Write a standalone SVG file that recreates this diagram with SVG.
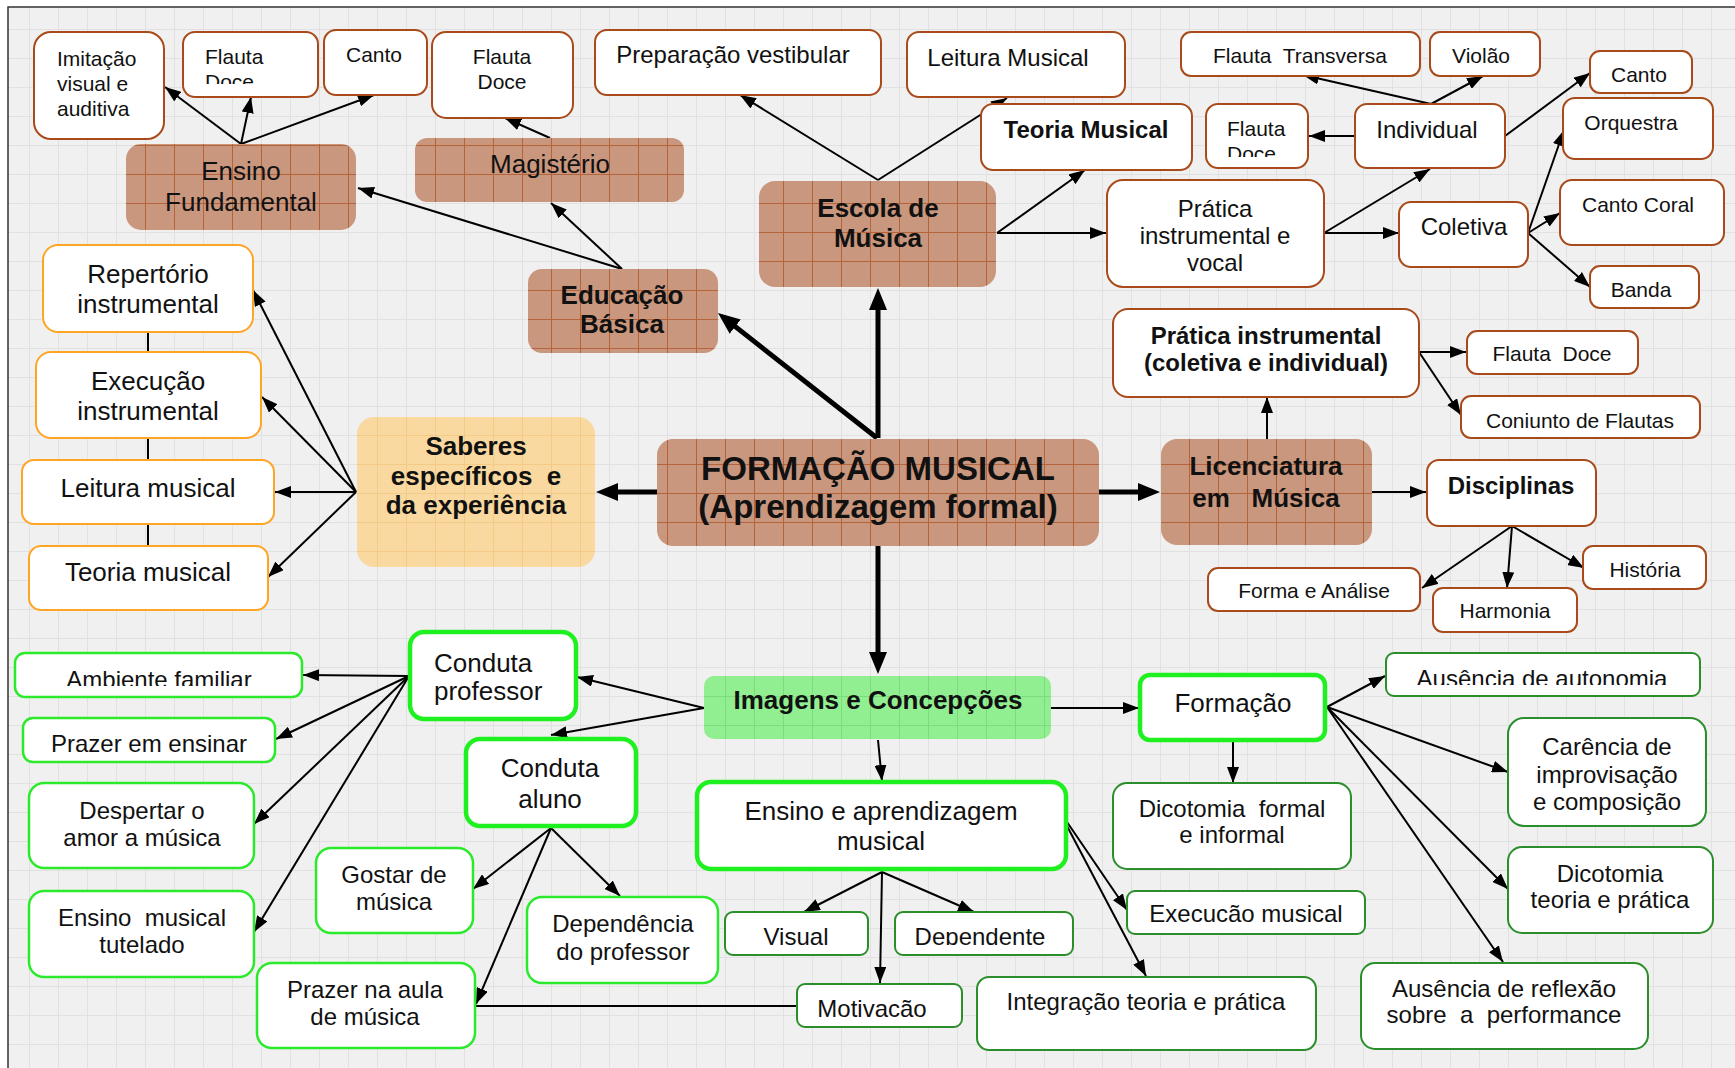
<svg xmlns="http://www.w3.org/2000/svg" width="1735" height="1068" viewBox="0 0 1735 1068">
<defs>
<pattern id="bg" width="29" height="29" patternUnits="userSpaceOnUse"><rect width="29" height="29" fill="#f0f0f0"/><path d="M0 0.5H29M0.5 0V29" stroke="#e1e1e1" stroke-width="1" fill="none"/></pattern>
<pattern id="bp" width="29" height="29" patternUnits="userSpaceOnUse"><rect width="29" height="29" fill="#c9967e"/><path d="M0 0.5H29M0.5 0V29" stroke="#b5633b" stroke-width="1" fill="none"/></pattern>
<pattern id="op" width="29" height="29" patternUnits="userSpaceOnUse"><rect width="29" height="29" fill="#fad9a0"/><path d="M0 0.5H29M0.5 0V29" stroke="#f3cb86" stroke-width="1" fill="none"/></pattern>
<pattern id="gp" width="29" height="29" patternUnits="userSpaceOnUse"><rect width="29" height="29" fill="#91ee91"/><path d="M0 0.5H29M0.5 0V29" stroke="#7cdc7c" stroke-width="1" fill="none"/></pattern>
<marker id="a" markerWidth="16" markerHeight="12" refX="16" refY="6" orient="auto" markerUnits="userSpaceOnUse"><path d="M0,0 L16,6 L0,12 z" fill="#000"/></marker>
<marker id="A" markerWidth="22" markerHeight="18" refX="10" refY="9" orient="auto" markerUnits="userSpaceOnUse"><path d="M0,0 L22,9 L0,18 z" fill="#000"/></marker>
<clipPath id="c1"><rect x="183" y="32" width="135" height="52"/></clipPath>
<clipPath id="c2"><rect x="1206" y="104" width="102" height="53"/></clipPath>
<clipPath id="c3"><rect x="15" y="653" width="287" height="33"/></clipPath>
<clipPath id="c4"><rect x="1386" y="653" width="314" height="32"/></clipPath>
<clipPath id="c5"><rect x="1127" y="891" width="238" height="31"/></clipPath>
<clipPath id="c6"><rect x="1461" y="396" width="239" height="32"/></clipPath>
<clipPath id="c7"><rect x="895" y="912" width="178" height="33"/></clipPath>
<clipPath id="c8"><rect x="797" y="984" width="165" height="33"/></clipPath>
</defs>
<style>
.bw{fill:#fff;stroke:#a84a1a;stroke-width:2}
.bf{fill:url(#bp)}
.ow{fill:#fff;stroke:#ffa526;stroke-width:2}
.of{fill:url(#op)}
.gw{fill:#fff;stroke:#2bea2b;stroke-width:2.5}
.gt{fill:#fff;stroke:#1ff01f;stroke-width:4.5}
.dg{fill:#fff;stroke:#2a8e2a;stroke-width:2}
.gf{fill:url(#gp)}
text{font-family:"Liberation Sans",Arial,sans-serif;fill:#111}
.s21{font-size:21px}
.s24{font-size:24px}
.s26{font-size:26px}
.s33{font-size:33px}
.bd{font-weight:bold}
.m{text-anchor:middle}
#connectors line{stroke:#000;stroke-width:2;fill:none}
#connectors line.k{stroke-width:5}
</style>
<rect width="1735" height="1068" fill="#fff"/>
<rect x="8" y="7" width="1727" height="1061" fill="url(#bg)"/>
<path d="M8 1068V7H1735" stroke="#333" stroke-width="1.5" fill="none"/>

<g id="connectors">
<line x1="241" y1="144" x2="165" y2="87" marker-end="url(#a)"/>
<line x1="241" y1="144" x2="251" y2="97" marker-end="url(#a)"/>
<line x1="241" y1="144" x2="374" y2="95" marker-end="url(#a)"/>
<line x1="622" y1="269" x2="358" y2="188" marker-end="url(#a)"/>
<line x1="622" y1="269" x2="551" y2="203" marker-end="url(#a)"/>
<line x1="550" y1="138" x2="505" y2="118" marker-end="url(#a)"/>
<line x1="878" y1="180" x2="740" y2="95" marker-end="url(#a)"/>
<line x1="878" y1="180" x2="1007" y2="98" marker-end="url(#a)"/>
<line x1="997" y1="233" x2="1085" y2="170" marker-end="url(#a)"/>
<line x1="997" y1="233" x2="1106" y2="233" marker-end="url(#a)"/>
<line x1="1324" y1="233" x2="1430" y2="169" marker-end="url(#a)"/>
<line x1="1324" y1="233" x2="1399" y2="233" marker-end="url(#a)"/>
<line x1="1431" y1="104" x2="1303" y2="75" marker-end="url(#a)"/>
<line x1="1431" y1="104" x2="1483" y2="76" marker-end="url(#a)"/>
<line x1="1355" y1="136" x2="1309" y2="136" marker-end="url(#a)"/>
<line x1="1505" y1="136" x2="1590" y2="73" marker-end="url(#a)"/>
<line x1="1528" y1="233" x2="1564" y2="130" marker-end="url(#a)"/>
<line x1="1528" y1="233" x2="1560" y2="213" marker-end="url(#a)"/>
<line x1="1528" y1="233" x2="1590" y2="287" marker-end="url(#a)"/>
<line x1="1267" y1="439" x2="1267" y2="397" marker-end="url(#a)"/>
<line x1="1419" y1="352" x2="1466" y2="352" marker-end="url(#a)"/>
<line x1="1419" y1="352" x2="1461" y2="415" marker-end="url(#a)"/>
<line x1="1372" y1="492" x2="1426" y2="492" marker-end="url(#a)"/>
<line x1="1512" y1="526" x2="1422" y2="588" marker-end="url(#a)"/>
<line x1="1512" y1="526" x2="1507" y2="588" marker-end="url(#a)"/>
<line x1="1512" y1="526" x2="1584" y2="568" marker-end="url(#a)"/>
<line x1="148" y1="332" x2="148" y2="546"/>
<line x1="356" y1="492" x2="253" y2="290" marker-end="url(#a)"/>
<line x1="356" y1="492" x2="262" y2="397" marker-end="url(#a)"/>
<line x1="356" y1="492" x2="275" y2="492" marker-end="url(#a)"/>
<line x1="356" y1="492" x2="268" y2="577" marker-end="url(#a)"/>
<line x1="704" y1="708" x2="577" y2="677" marker-end="url(#a)"/>
<line x1="704" y1="708" x2="551" y2="735" marker-end="url(#a)"/>
<line x1="1051" y1="708" x2="1139" y2="708" marker-end="url(#a)"/>
<line x1="878" y1="740" x2="882" y2="781" marker-end="url(#a)"/>
<line x1="409" y1="676" x2="303" y2="675" marker-end="url(#a)"/>
<line x1="409" y1="676" x2="276" y2="739" marker-end="url(#a)"/>
<line x1="409" y1="676" x2="254" y2="824" marker-end="url(#a)"/>
<line x1="409" y1="676" x2="254" y2="932" marker-end="url(#a)"/>
<line x1="551" y1="828" x2="473" y2="889" marker-end="url(#a)"/>
<line x1="551" y1="828" x2="476" y2="1004" marker-end="url(#a)"/>
<line x1="551" y1="828" x2="620" y2="896" marker-end="url(#a)"/>
<line x1="882" y1="872" x2="804" y2="912" marker-end="url(#a)"/>
<line x1="882" y1="872" x2="974" y2="912" marker-end="url(#a)"/>
<line x1="882" y1="872" x2="880" y2="983" marker-end="url(#a)"/>
<line x1="797" y1="1006" x2="475" y2="1006"/>
<line x1="1067" y1="822" x2="1127" y2="910" marker-end="url(#a)"/>
<line x1="1067" y1="826" x2="1146" y2="976" marker-end="url(#a)"/>
<line x1="1233" y1="740" x2="1233" y2="783" marker-end="url(#a)"/>
<line x1="1327" y1="707" x2="1385" y2="676" marker-end="url(#a)"/>
<line x1="1327" y1="707" x2="1508" y2="772" marker-end="url(#a)"/>
<line x1="1327" y1="707" x2="1508" y2="889" marker-end="url(#a)"/>
<line x1="1327" y1="707" x2="1503" y2="962" marker-end="url(#a)"/>
<line class="k" x1="878" y1="438" x2="878" y2="300" marker-end="url(#A)"/>
<line class="k" x1="877" y1="438" x2="727.4" y2="320.4" marker-end="url(#A)"/>
<line class="k" x1="657" y1="492" x2="608" y2="492" marker-end="url(#A)"/>
<line class="k" x1="1099" y1="492" x2="1148" y2="492" marker-end="url(#A)"/>
<line class="k" x1="878" y1="546" x2="878" y2="662" marker-end="url(#A)"/>
</g>

<g id="n-imitacao"><rect class="bw" x="34" y="32" width="130" height="107" rx="17"/><text class="s21" x="57"><tspan x="57" y="66">Imitação</tspan><tspan x="57" y="91">visual e</tspan><tspan x="57" y="116">auditiva</tspan></text></g>
<g id="n-flauta1"><rect class="bw" x="183" y="32" width="135" height="65" rx="12"/><g clip-path="url(#c1)"><text class="s21" x="205"><tspan x="205" y="64">Flauta</tspan><tspan x="205" y="89">Doce</tspan></text></g></g>
<g id="n-canto1"><rect class="bw" x="324" y="30" width="103" height="65" rx="12"/><text class="s21 m" x="374" y="62">Canto</text></g>
<g id="n-flauta2"><rect class="bw" x="432" y="32" width="141" height="86" rx="14"/><text class="s21 m"><tspan x="502" y="64">Flauta</tspan><tspan x="502" y="89">Doce</tspan></text></g>
<g id="n-preparacao"><rect class="bw" x="595" y="30" width="286" height="65" rx="12"/><text class="s24 m" x="733" y="63">Preparação vestibular</text></g>
<g id="n-leitura1"><rect class="bw" x="907" y="32" width="218" height="65" rx="12"/><text class="s24 m" x="1008" y="66">Leitura Musical</text></g>
<g id="n-teoria1"><rect class="bw" x="981" y="104" width="211" height="66" rx="12"/><text class="s24 bd m" x="1086" y="138">Teoria Musical</text></g>
<g id="n-transversa"><rect class="bw" x="1181" y="32" width="239" height="44" rx="10"/><text class="s21 m" x="1300" y="63" xml:space="preserve">Flauta  Transversa</text></g>
<g id="n-violao"><rect class="bw" x="1430" y="32" width="110" height="44" rx="10"/><text class="s21 m" x="1481" y="63">Violão</text></g>
<g id="n-canto2"><rect class="bw" x="1590" y="51" width="102" height="42" rx="10"/><text class="s21 m" x="1639" y="82">Canto</text></g>
<g id="n-flauta3"><rect class="bw" x="1206" y="104" width="102" height="64" rx="12"/><g clip-path="url(#c2)"><text class="s21"><tspan x="1227" y="136">Flauta</tspan><tspan x="1227" y="161">Doce</tspan></text></g></g>
<g id="n-individual"><rect class="bw" x="1355" y="104" width="150" height="64" rx="12"/><text class="s24 m" x="1427" y="138">Individual</text></g>
<g id="n-orquestra"><rect class="bw" x="1563" y="98" width="150" height="61" rx="12"/><text class="s21 m" x="1631" y="130">Orquestra</text></g>
<g id="n-pratica1"><rect class="bw" x="1107" y="180" width="217" height="107" rx="16"/><text class="s24 m"><tspan x="1215" y="217">Prática</tspan><tspan x="1215" y="244">instrumental e</tspan><tspan x="1215" y="271">vocal</tspan></text></g>
<g id="n-coletiva"><rect class="bw" x="1399" y="202" width="129" height="65" rx="12"/><text class="s24 m" x="1464" y="235">Coletiva</text></g>
<g id="n-cantocoral"><rect class="bw" x="1560" y="180" width="164" height="65" rx="12"/><text class="s21 m" x="1638" y="212">Canto Coral</text></g>
<g id="n-banda"><rect class="bw" x="1590" y="266" width="109" height="42" rx="10"/><text class="s21 m" x="1641" y="297">Banda</text></g>
<g id="n-fundamental"><rect class="bf" x="126" y="144" width="230" height="86" rx="15"/><text class="s26 m"><tspan x="241" y="180">Ensino</tspan><tspan x="241" y="211">Fundamental</tspan></text></g>
<g id="n-magisterio"><rect class="bf" x="415" y="138" width="269" height="64" rx="12"/><text class="s26 m" x="550" y="173">Magistério</text></g>
<g id="n-escola"><rect class="bf" x="759" y="181" width="237" height="106" rx="16"/><text class="s26 bd m"><tspan x="878" y="217">Escola de</tspan><tspan x="878" y="247">Música</tspan></text></g>
<g id="n-educacao"><rect class="bf" x="528" y="269" width="190" height="84" rx="14"/><text class="s26 bd m"><tspan x="622" y="304">Educação</tspan><tspan x="622" y="333">Básica</tspan></text></g>
<g id="n-repertorio"><rect class="ow" x="43" y="245" width="210" height="87" rx="15"/><text class="s26 m"><tspan x="148" y="283">Repertório</tspan><tspan x="148" y="313">instrumental</tspan></text></g>
<g id="n-execucao1"><rect class="ow" x="36" y="352" width="225" height="86" rx="15"/><text class="s26 m"><tspan x="148" y="390">Execução</tspan><tspan x="148" y="420">instrumental</tspan></text></g>
<g id="n-leitura2"><rect class="ow" x="22" y="460" width="252" height="64" rx="12"/><text class="s26 m" x="148" y="497">Leitura musical</text></g>
<g id="n-teoria2"><rect class="ow" x="29" y="546" width="239" height="64" rx="12"/><text class="s26 m" x="148" y="581">Teoria musical</text></g>
<g id="n-saberes"><rect class="of" x="357" y="417" width="238" height="150" rx="17"/><text class="s26 bd m" xml:space="preserve"><tspan x="476" y="455">Saberes</tspan><tspan x="476" y="485">específicos  e</tspan><tspan x="476" y="514">da experiência</tspan></text></g>
<g id="n-formacao-musical"><rect class="bf" x="657" y="439" width="442" height="107" rx="16"/><text class="s33 bd m"><tspan x="878" y="480">FORMAÇÃO MUSICAL</tspan><tspan x="878" y="518">(Aprendizagem formal)</tspan></text></g>
<g id="n-licenciatura"><rect class="bf" x="1161" y="439" width="211" height="106" rx="16"/><text class="s26 bd m" xml:space="preserve"><tspan x="1266" y="475">Licenciatura</tspan><tspan x="1266" y="507">em   Música</tspan></text></g>
<g id="n-pratica2"><rect class="bw" x="1113" y="309" width="306" height="88" rx="15"/><text class="s24 bd m"><tspan x="1266" y="344">Prática instrumental</tspan><tspan x="1266" y="371">(coletiva e individual)</tspan></text></g>
<g id="n-flauta4"><rect class="bw" x="1467" y="331" width="171" height="43" rx="10"/><text class="s21 m" x="1552" y="361" xml:space="preserve">Flauta  Doce</text></g>
<g id="n-conjunto"><rect class="bw" x="1461" y="396" width="239" height="42" rx="10"/><g clip-path="url(#c6)"><text class="s21 m" x="1580" y="428">Conjunto de Flautas</text></g></g>
<g id="n-disciplinas"><rect class="bw" x="1427" y="460" width="169" height="66" rx="12"/><text class="s24 bd m" x="1511" y="494">Disciplinas</text></g>
<g id="n-forma"><rect class="bw" x="1208" y="568" width="212" height="43" rx="10"/><text class="s21 m" x="1314" y="598">Forma e Análise</text></g>
<g id="n-harmonia"><rect class="bw" x="1433" y="588" width="144" height="44" rx="10"/><text class="s21 m" x="1505" y="618">Harmonia</text></g>
<g id="n-historia"><rect class="bw" x="1583" y="546" width="123" height="43" rx="10"/><text class="s21 m" x="1645" y="577">História</text></g>
<g id="n-imagens"><rect class="gf" x="704" y="676" width="347" height="63" rx="10"/><text class="s26 bd m" x="878" y="709">Imagens e Concepções</text></g>
<g id="n-conduta-prof"><rect class="gt" x="410" y="632" width="166" height="87" rx="14"/><text class="s26"><tspan x="434" y="672">Conduta</tspan><tspan x="434" y="700">professor</tspan></text></g>
<g id="n-ambiente"><rect class="gw" x="15" y="653" width="287" height="44" rx="10"/><g clip-path="url(#c3)"><text class="s24 m" x="159" y="688">Ambiente familiar</text></g></g>
<g id="n-prazer-ensinar"><rect class="gw" x="23" y="718" width="252" height="44" rx="10"/><text class="s24 m" x="149" y="752">Prazer em ensinar</text></g>
<g id="n-despertar"><rect class="gw" x="29" y="783" width="225" height="85" rx="15"/><text class="s24 m"><tspan x="142" y="819">Despertar o</tspan><tspan x="142" y="846">amor a música</tspan></text></g>
<g id="n-tutelado"><rect class="gw" x="29" y="891" width="225" height="86" rx="15"/><text class="s24 m" xml:space="preserve"><tspan x="142" y="926">Ensino  musical</tspan><tspan x="142" y="953">tutelado</tspan></text></g>
<g id="n-conduta-aluno"><rect class="gt" x="466" y="739" width="170" height="87" rx="14"/><text class="s26 m"><tspan x="550" y="777">Conduta</tspan><tspan x="550" y="808">aluno</tspan></text></g>
<g id="n-gostar"><rect class="gw" x="316" y="848" width="157" height="85" rx="15"/><text class="s24 m"><tspan x="394" y="883">Gostar de</tspan><tspan x="394" y="910">música</tspan></text></g>
<g id="n-dependencia"><rect class="gw" x="527" y="897" width="191" height="86" rx="15"/><text class="s24 m"><tspan x="623" y="932">Dependência</tspan><tspan x="623" y="960">do professor</tspan></text></g>
<g id="n-prazer-aula"><rect class="gw" x="257" y="963" width="218" height="85" rx="15"/><text class="s24 m"><tspan x="365" y="998">Prazer na aula</tspan><tspan x="365" y="1025">de música</tspan></text></g>
<g id="n-ensino-apr"><rect class="gt" x="697" y="782" width="369" height="87" rx="14"/><text class="s26 m"><tspan x="881" y="820">Ensino e aprendizagem</tspan><tspan x="881" y="850">musical</tspan></text></g>
<g id="n-visual"><rect class="dg" x="725" y="912" width="143" height="43" rx="8"/><text class="s24 m" x="796" y="945">Visual</text></g>
<g id="n-dependente"><rect class="dg" x="895" y="912" width="178" height="43" rx="8"/><g clip-path="url(#c7)"><text class="s24 m" x="980" y="945">Dependente</text></g></g>
<g id="n-motivacao"><rect class="dg" x="797" y="984" width="165" height="43" rx="8"/><g clip-path="url(#c8)"><text class="s24 m" x="872" y="1017">Motivação</text></g></g>
<g id="n-formacao"><rect class="gt" x="1140" y="675" width="185" height="65" rx="10"/><text class="s26 m" x="1233" y="712">Formação</text></g>
<g id="n-dicotomia1"><rect class="dg" x="1113" y="783" width="238" height="86" rx="14"/><text class="s24 m" xml:space="preserve"><tspan x="1232" y="817">Dicotomia  formal</tspan><tspan x="1232" y="843">e informal</tspan></text></g>
<g id="n-execucao2"><rect class="dg" x="1127" y="891" width="238" height="43" rx="8"/><g clip-path="url(#c5)"><text class="s24 m" x="1246" y="922">Execução musical</text></g></g>
<g id="n-integracao"><rect class="dg" x="977" y="977" width="339" height="73" rx="12"/><text class="s24 m" x="1146" y="1010">Integração teoria e prática</text></g>
<g id="n-autonomia"><rect class="dg" x="1386" y="653" width="314" height="43" rx="8"/><g clip-path="url(#c4)"><text class="s24 m" x="1542" y="687">Ausência de autonomia</text></g></g>
<g id="n-carencia"><rect class="dg" x="1508" y="718" width="198" height="108" rx="16"/><text class="s24 m"><tspan x="1607" y="755">Carência de</tspan><tspan x="1607" y="783">improvisação</tspan><tspan x="1607" y="810">e composição</tspan></text></g>
<g id="n-dicotomia2"><rect class="dg" x="1508" y="847" width="205" height="86" rx="14"/><text class="s24 m"><tspan x="1610" y="882">Dicotomia</tspan><tspan x="1610" y="908">teoria e prática</tspan></text></g>
<g id="n-reflexao"><rect class="dg" x="1361" y="963" width="287" height="86" rx="14"/><text class="s24 m" xml:space="preserve"><tspan x="1504" y="997">Ausência de reflexão</tspan><tspan x="1504" y="1023">sobre  a  performance</tspan></text></g>
</svg>
